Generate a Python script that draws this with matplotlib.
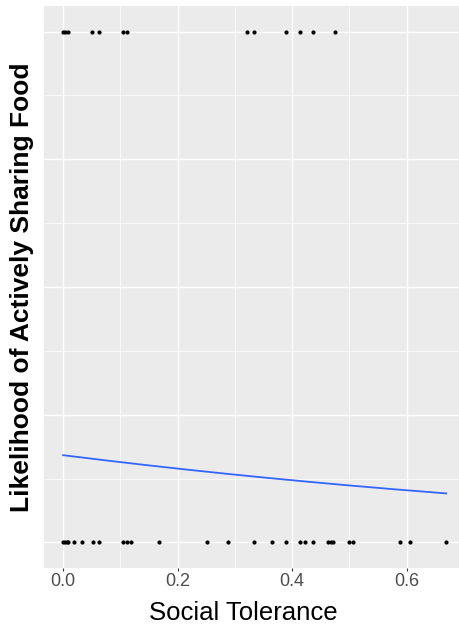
import numpy as np
import matplotlib.pyplot as plt
from matplotlib.ticker import MultipleLocator, NullFormatter

plt.rcParams['font.family'] = ['Liberation Sans', 'DejaVu Sans']

# social tolerance of groups that actively shared food (1) or not (0)
tol_shared = [0.0, 0.003, 0.009, 0.051, 0.062, 0.105, 0.111, 0.321, 0.334,
              0.390, 0.413, 0.437, 0.475]
tol_not_shared = [0.0, 0.003, 0.006, 0.009, 0.019, 0.033, 0.052, 0.062, 0.105,
                  0.111, 0.118, 0.167, 0.251, 0.287, 0.334, 0.364, 0.390, 0.413,
                  0.423, 0.437, 0.463, 0.468, 0.472, 0.500, 0.506, 0.589, 0.605,
                  0.669]
# logistic fit (intercept, slope on the logit scale)
fit_intercept = -1.58
fit_slope = -0.99

x = np.array(tol_shared + tol_not_shared)
y = np.array([1] * len(tol_shared) + [0] * len(tol_not_shared))

fig = plt.figure(figsize=(4.59, 6.27), dpi=100)
ax = fig.add_axes([44 / 459, 1 - 568 / 627, 421.4 / 459, 562 / 627])
ax.set_facecolor('#EBEBEB')

ax.scatter(x, y, s=9, color='black', zorder=3, linewidths=0)

xs = np.linspace(x.min(), x.max(), 200)
ps = 1 / (1 + np.exp(-(fit_intercept + fit_slope * xs)))
ax.plot(xs, ps, color='#3366FF', lw=1.3, zorder=2)

ax.set_xlim(-0.0335, 0.7025)
ax.set_ylim(-0.05, 1.05)
ax.xaxis.set_major_locator(MultipleLocator(0.2))
ax.xaxis.set_minor_locator(MultipleLocator(0.1))
ax.yaxis.set_major_locator(MultipleLocator(0.25))
ax.yaxis.set_minor_locator(MultipleLocator(0.125))
ax.yaxis.set_major_formatter(NullFormatter())
ax.xaxis.set_major_formatter(lambda v, pos: f"{v:.1f}")

ax.grid(which='major', color='white', lw=1.0)
ax.grid(which='minor', color='white', lw=0.5)
ax.set_axisbelow(True)
for s in ax.spines.values():
    s.set_visible(False)

ax.tick_params(axis='x', which='major', length=2.2, color='#333333', width=0.8,
               labelsize=13, labelcolor='#4D4D4D', pad=1.5)
ax.tick_params(axis='y', which='major', length=0)
ax.tick_params(which='minor', length=0)

ax.set_xlabel("Social Tolerance", fontsize=18.5)
ax.xaxis.set_label_coords(0.472, -0.059)
ax.set_ylabel("Likelihood of Actively Sharing Food", fontsize=19, fontweight='bold')
ax.yaxis.set_label_coords(-0.023, 0.5)

fig.savefig("out.png", dpi=100)
